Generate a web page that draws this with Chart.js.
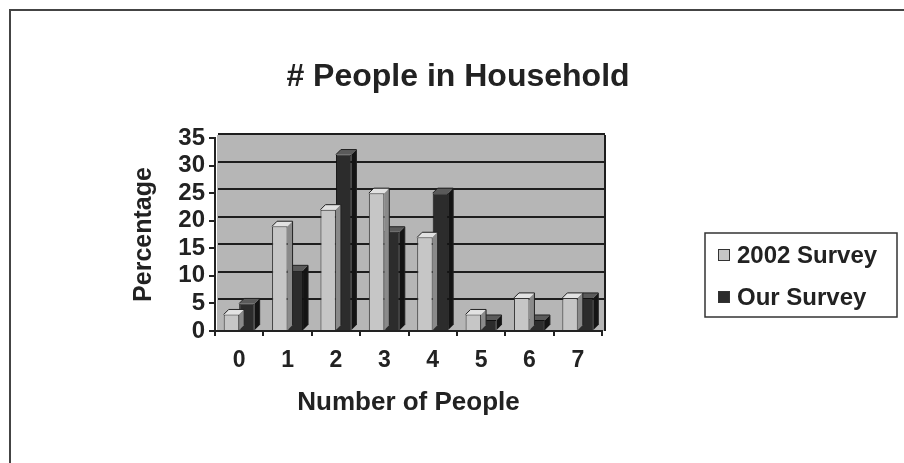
<!DOCTYPE html>
<html>
<head>
<meta charset="utf-8">
<script src="https://cdn.jsdelivr.net/npm/chart.js@4"></script>
<style>
  html, body { margin: 0; padding: 0; background: #fff; }
  #wrap { width: 904px; height: 463px; position: relative; }
</style>
</head>
<body>
<div id="wrap"><canvas id="c" width="904" height="463"></canvas></div>
<script>
// Household size survey: share of respondents by number of people in household
const chartTitle = '# People in Household';
const categories = ['0', '1', '2', '3', '4', '5', '6', '7'];
const survey2002 = [3, 19, 22, 25, 17, 3, 6, 6];
const ourSurvey = [5, 11, 32, 18, 25, 2, 2, 6];
const seriesNames = ['2002 Survey', 'Our Survey'];
const yTicks = [0, 5, 10, 15, 20, 25, 30, 35];

const FONT = '"Liberation Sans", Arial, Helvetica, sans-serif';
const INK = '#222';
const DEPTH = 5;

// Face colours for the pseudo-3D columns: [front, top, side]
const faces = [
  ['#c6c6c6', '#e2e2e2', '#8a8a8a'],
  ['#2c2c2c', '#5a5a5a', '#141414']
];

// White page, thin frame along the top and left edges, grey back wall
const framePlugin = {
  id: 'frame',
  beforeDraw(chart) {
    const { ctx, chartArea: a } = chart;
    ctx.save();
    ctx.fillStyle = '#fff';
    ctx.fillRect(0, 0, chart.width, chart.height);
    ctx.strokeStyle = '#444';
    ctx.lineWidth = 2;
    ctx.beginPath();
    ctx.moveTo(chart.width, 10);
    ctx.lineTo(10, 10);
    ctx.lineTo(10, chart.height);
    ctx.stroke();
    // back wall of the plot
    ctx.fillStyle = '#b6b6b6';
    ctx.fillRect(a.left + 2, a.top - 3, a.right - a.left + 2, a.bottom - a.top + 3);
    ctx.restore();
  },
  beforeDatasetsDraw(chart) {
    // gridlines sit on the back wall, a little up and to the right
    const { ctx, chartArea: a, scales: { y } } = chart;
    ctx.save();
    ctx.strokeStyle = '#1e1e1e';
    ctx.lineWidth = 2;
    y.ticks.forEach(t => {
      if (t.value === 0) return;
      const py = Math.round(y.getPixelForValue(t.value)) - 4;
      ctx.beginPath();
      ctx.moveTo(a.left + 3, py);
      ctx.lineTo(a.right + 3, py);
      ctx.stroke();
    });
    // right edge of the wall
    ctx.beginPath();
    ctx.moveTo(a.right + 3, a.top - 3);
    ctx.lineTo(a.right + 3, a.bottom);
    ctx.stroke();
    ctx.restore();
  },
  afterDatasetDraw(chart, args) {
    // top and side faces of each column
    const { ctx } = chart;
    const f = faces[args.index];
    const meta = chart.getDatasetMeta(args.index);
    ctx.save();
    meta.data.forEach(bar => {
      const { x, y, base, width } = bar.getProps(['x', 'y', 'base', 'width'], true);
      const l = x - width / 2, r = x + width / 2, d = DEPTH;
      ctx.fillStyle = f[2];
      ctx.beginPath();
      ctx.moveTo(r, y); ctx.lineTo(r + d, y - d); ctx.lineTo(r + d, base - d); ctx.lineTo(r, base);
      ctx.closePath(); ctx.fill();
      ctx.fillStyle = f[1];
      ctx.beginPath();
      ctx.moveTo(l, y); ctx.lineTo(l + d, y - d); ctx.lineTo(r + d, y - d); ctx.lineTo(r, y);
      ctx.closePath(); ctx.fill();
      ctx.strokeStyle = '#222';
      ctx.lineWidth = 1;
      ctx.beginPath();
      ctx.moveTo(l, y); ctx.lineTo(l + d, y - d); ctx.lineTo(r + d, y - d); ctx.lineTo(r + d, base - d);
      ctx.stroke();
    });
    ctx.restore();
  },
  afterDraw(chart) {
    const { ctx } = chart;
    ctx.save();
    // title
    ctx.fillStyle = INK;
    ctx.font = 'bold 32px ' + FONT;
    ctx.textAlign = 'center';
    ctx.textBaseline = 'middle';
    ctx.fillText(chartTitle, 458, 77);
    // legend box
    ctx.strokeStyle = '#333';
    ctx.lineWidth = 1.5;
    ctx.strokeRect(705, 233, 192, 84);
    ctx.font = 'bold 24px ' + FONT;
    ctx.textAlign = 'left';
    chart.data.datasets.forEach((ds, i) => {
      const cy = 255 + i * 42;
      ctx.fillStyle = ds.backgroundColor;
      ctx.fillRect(718, cy - 6, 12, 12);
      ctx.strokeStyle = '#333';
      ctx.lineWidth = 1;
      ctx.strokeRect(718.5, cy - 5.5, 11, 11);
      ctx.fillStyle = INK;
      ctx.fillText(ds.label, 737, cy + 1);
    });
    ctx.restore();
  }
};

new Chart(document.getElementById('c'), {
  type: 'bar',
  data: {
    labels: categories,
    datasets: [
      { label: seriesNames[0], data: survey2002, backgroundColor: faces[0][0], borderColor: '#333', borderWidth: 1 },
      { label: seriesNames[1], data: ourSurvey, backgroundColor: faces[1][0], borderColor: '#111', borderWidth: 1 }
    ]
  },
  options: {
    responsive: false,
    animation: false,
    events: [],
    layout: { padding: { left: 129, right: 302, top: 138, bottom: 45 } },
    datasets: { bar: { categoryPercentage: 0.64, barPercentage: 1 } },
    plugins: { legend: { display: false }, title: { display: false }, tooltip: { enabled: false } },
    scales: {
      x: {
        grid: { offset: true, drawOnChartArea: false, tickLength: 5, color: INK, lineWidth: 2 },
        border: { display: true, color: INK, width: 2 },
        ticks: { padding: 11, color: INK, font: { family: FONT, size: 23, weight: 'bold' } },
        title: { display: true, text: 'Number of People', color: INK, padding: 0,
                 font: { family: FONT, size: 26, weight: 'bold' } },
        afterFit(s) { s.height = 87; }
      },
      y: {
        min: 0, max: 35,
        afterBuildTicks(s) { s.ticks = yTicks.map(v => ({ value: v })); },
        grid: { drawOnChartArea: false, tickLength: 6, color: INK, lineWidth: 2 },
        border: { display: true, color: INK, width: 2 },
        ticks: { autoSkip: false, padding: 4, color: INK, font: { family: FONT, size: 24, weight: 'bold' } },
        title: { display: true, text: 'Percentage', color: INK, padding: 0,
                 font: { family: FONT, size: 25, weight: 'bold' } },
        afterFit(s) { s.width = 86; }
      }
    }
  },
  plugins: [framePlugin]
});
</script>
</body>
</html>
